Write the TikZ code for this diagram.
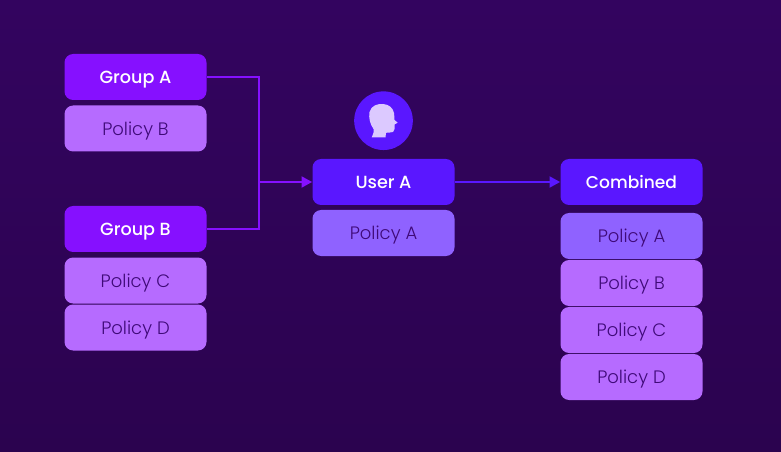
\documentclass[tikz,border=0pt]{standalone}
\usepackage{fontspec}
\setmainfont{Poppins}[UprightFont=* Light,BoldFont=* Medium]
\usetikzlibrary{arrows.meta}
\definecolor{bgtop}{HTML}{33045F}
\definecolor{bgbot}{HTML}{2B034F}
\definecolor{grp}{HTML}{8610FF}
\definecolor{usr}{HTML}{5A17FF}
\definecolor{polm}{HTML}{B66BFF}
\definecolor{polu}{HTML}{8F62FF}
\definecolor{ptext}{HTML}{3F0A78}
\definecolor{headc}{HTML}{DCC9FF}
\tikzset{
  box/.style={rounded corners=6.5pt,minimum width=106.5pt,minimum height=34.5pt,inner sep=0pt,text height=12pt,text depth=2pt,font=\fontsize{13.5}{15}\selectfont,anchor=center},
  head/.style={box,text=white,font=\fontsize{13.2}{15}\selectfont\bfseries},
  groupbox/.style={head,fill=grp},
  userbox/.style={head,fill=usr},
  polbox/.style={box,fill=polm,text=ptext},
  polubox/.style={box,fill=polu,text=ptext},
  conn/.style={line width=2.2pt},
  tip/.style={-{Triangle[length=8pt,width=8pt]}}
}
\begin{document}
\begin{tikzpicture}[x=0.75pt,y=-0.75pt]
\useasboundingbox (0,0) rectangle (781,452);
\shade[top color=bgtop,bottom color=bgbot] (0,0) rectangle (781,452);
\node[groupbox] (ga) at (135.5,77) {Group A};
\node[polbox] (pb1) at (135.5,128.5) {Policy B};
\node[groupbox] (gb) at (135.5,229) {Group B};
\node[polbox] (pc1) at (135.5,280.5) {Policy C};
\node[polbox] (pd1) at (135.5,327.5) {Policy D};
\node[userbox] (ua) at (383.5,182) {User A};
\node[polubox] (pa1) at (383.5,233) {Policy A};
\node[userbox,font=\fontsize{12.8}{15}\selectfont\bfseries] (cb) at (631.5,182) {Combined};
\node[polubox] (pa2) at (631.5,236) {Policy A};
\node[polbox] (pb2) at (631.5,283) {Policy B};
\node[polbox] (pc2) at (631.5,330) {Policy C};
\node[polbox] (pd2) at (631.5,377) {Policy D};
\coordinate (j) at (259,182);
\draw[conn,grp] (ga.east) -| (j);
\draw[conn,grp] (gb.east) -| (j);
\draw[conn,grp,tip] (j) -- (ua.west);
\draw[conn,usr,tip] (ua.east) -- (cb.west);
\node[circle,fill=usr,minimum size=44pt,inner sep=0pt] (av) at (383.5,120.7) {};
\fill[headc] (371.7,137.5) .. controls (373.5,133) and (374.3,131) .. (373.5,129)
  .. controls (370,124) and (368.5,118) .. (369.5,112)
  .. controls (371,105.5) and (378,103.5) .. (383,104)
  .. controls (389,104.3) and (393,108) .. (394,113)
  .. controls (394.5,116) and (394.3,118) .. (394.5,120)
  -- (397.7,122.7) -- (394.5,124.5) -- (394.5,129)
  .. controls (394.5,132) and (392.5,132.5) .. (390,132.5)
  -- (386,132.8) -- (385.5,137.5) -- cycle;
\end{tikzpicture}
\end{document}
